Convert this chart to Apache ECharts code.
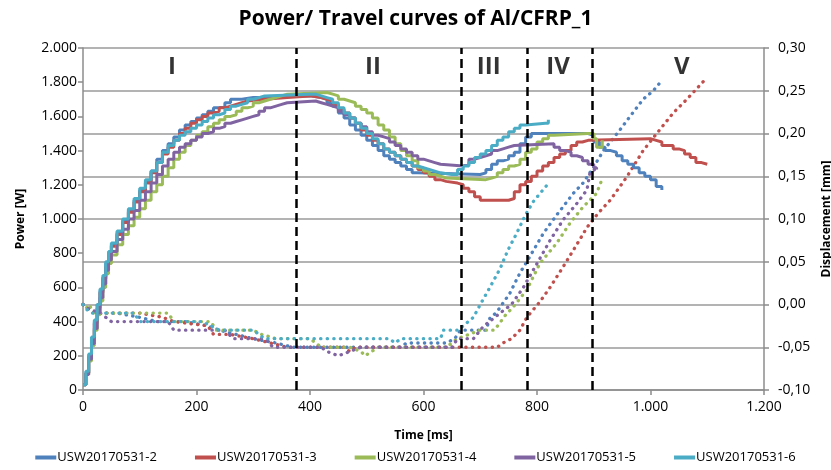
<!DOCTYPE html>
<html>
<head>
<meta charset="utf-8">
<script src="https://cdn.jsdelivr.net/npm/echarts@6/dist/echarts.min.js"></script>
<style>
html,body{margin:0;padding:0;background:#fff;}
#chart{width:831px;height:470px;}
</style>
</head>
<body>
<div id="chart"></div>
<script>
// ---------- DATA ----------
const seriesNames = ['USW20170531-2','USW20170531-3','USW20170531-4','USW20170531-5','USW20170531-6'];
const seriesColors = ['#4F81BD','#C0504D','#9BBB59','#8064A2','#4BACC6'];

// Power [W] vs time [ms]
const powerUSW2 = [[0,30],[5,100],[10,200],[15,300],[20,400],[25,500],[30,580],[35,660],[40,740],[45,800],[50,850],[60,920],[70,990],[80,1050],[90,1110],[100,1170],[110,1220],[120,1280],[130,1350],[140,1400],[150,1440],[160,1480],[170,1520],[180,1550],[190,1570],[200,1590],[210,1610],[220,1630],[230,1650],[240,1660],[250,1680],[260,1700],[280,1710],[300,1710],[320,1720],[380,1720],[400,1710],[420,1700],[430,1680],[440,1660],[450,1620],[460,1590],[470,1550],[480,1520],[490,1490],[500,1460],[510,1430],[520,1400],[530,1370],[540,1350],[550,1330],[560,1310],[570,1290],[580,1270],[590,1260],[700,1270],[710,1290],[720,1320],[730,1340],[740,1350],[750,1370],[760,1390],[770,1440],[780,1480],[790,1500],[890,1490],[900,1450],[910,1420],[920,1400],[930,1390],[940,1370],[950,1340],[960,1320],[970,1300],[980,1270],[990,1250],[1000,1230],[1010,1190],[1020,1170]];
const powerUSW3 = [[0,30],[5,100],[10,190],[15,290],[20,390],[25,480],[30,570],[35,650],[40,720],[45,790],[50,840],[60,910],[70,980],[80,1040],[90,1100],[100,1160],[110,1210],[120,1270],[130,1330],[140,1380],[150,1420],[160,1460],[170,1500],[180,1530],[190,1560],[200,1580],[210,1600],[220,1620],[230,1630],[240,1650],[250,1660],[260,1670],[270,1680],[280,1690],[290,1700],[320,1710],[360,1720],[400,1710],[420,1700],[430,1690],[440,1670],[450,1640],[460,1620],[470,1590],[480,1560],[490,1520],[500,1490],[510,1460],[520,1440],[530,1410],[540,1390],[550,1370],[560,1350],[570,1330],[580,1310],[590,1290],[600,1270],[610,1250],[620,1230],[630,1220],[640,1210],[660,1200],[670,1180],[680,1160],[690,1130],[700,1110],[750,1120],[760,1160],[770,1200],[780,1220],[790,1250],[800,1280],[810,1310],[820,1330],[830,1360],[840,1380],[850,1400],[860,1430],[870,1450],[880,1460],[890,1470],[1000,1460],[1010,1450],[1020,1430],[1040,1410],[1050,1400],[1060,1380],[1070,1360],[1080,1330],[1090,1320],[1100,1320]];
const powerUSW4 = [[0,30],[5,90],[10,170],[15,260],[20,350],[25,440],[30,520],[35,600],[40,680],[45,740],[50,790],[60,850],[70,910],[80,960],[90,1010],[100,1060],[110,1110],[120,1160],[130,1200],[140,1250],[150,1300],[160,1350],[170,1390],[180,1430],[190,1460],[200,1490],[210,1510],[220,1540],[230,1560],[240,1580],[250,1600],[260,1610],[270,1630],[280,1650],[290,1660],[300,1680],[310,1690],[320,1700],[330,1710],[340,1720],[350,1730],[360,1740],[430,1730],[440,1720],[450,1700],[460,1690],[470,1680],[480,1660],[490,1640],[500,1620],[510,1590],[520,1550],[530,1520],[540,1480],[550,1440],[560,1400],[570,1370],[580,1340],[590,1300],[600,1280],[610,1260],[620,1250],[630,1240],[640,1230],[710,1240],[720,1250],[730,1270],[740,1290],[750,1310],[760,1320],[770,1350],[780,1390],[790,1410],[800,1450],[810,1470],[820,1490],[830,1500],[890,1500],[900,1470],[905,1420],[910,1420],[915,1460]];
const powerUSW5 = [[0,30],[5,90],[10,180],[15,270],[20,360],[25,450],[30,540],[35,620],[40,700],[45,760],[50,810],[60,880],[70,940],[80,1000],[90,1050],[100,1110],[110,1160],[120,1210],[130,1260],[140,1310],[150,1350],[160,1390],[170,1420],[180,1440],[190,1460],[200,1480],[210,1500],[220,1510],[230,1530],[240,1540],[250,1560],[260,1570],[270,1580],[280,1590],[290,1600],[300,1610],[310,1630],[320,1650],[330,1660],[340,1670],[350,1680],[360,1690],[410,1680],[420,1670],[430,1660],[440,1650],[450,1630],[460,1610],[470,1590],[480,1560],[490,1540],[500,1510],[510,1490],[520,1480],[530,1470],[540,1450],[550,1430],[560,1410],[570,1390],[580,1370],[590,1350],[600,1340],[610,1330],[620,1320],[630,1310],[670,1320],[680,1350],[690,1360],[700,1370],[710,1380],[720,1400],[730,1410],[740,1420],[750,1430],[760,1440],[830,1420],[840,1400],[850,1390],[860,1370],[870,1360],[880,1340],[890,1320],[900,1300],[905,1290]];
const powerUSW6 = [[0,30],[5,110],[10,210],[15,310],[20,410],[25,500],[30,590],[35,670],[40,750],[45,810],[50,860],[60,930],[70,1000],[80,1060],[90,1120],[100,1180],[110,1230],[120,1280],[130,1330],[140,1390],[150,1430],[160,1460],[170,1490],[180,1510],[190,1530],[200,1550],[210,1570],[220,1590],[230,1610],[240,1620],[250,1640],[260,1660],[270,1670],[280,1680],[290,1700],[300,1710],[310,1720],[320,1730],[400,1730],[410,1720],[420,1710],[430,1700],[440,1680],[450,1650],[460,1620],[470,1590],[480,1560],[490,1530],[500,1500],[510,1470],[520,1440],[530,1410],[540,1390],[550,1370],[560,1350],[570,1330],[580,1310],[590,1300],[600,1290],[610,1280],[620,1270],[630,1260],[650,1260],[660,1290],[670,1310],[680,1330],[690,1360],[700,1380],[710,1400],[720,1430],[730,1460],[740,1480],[750,1510],[760,1530],[770,1550],[780,1560],[815,1560],[820,1580]];

// Displacement [mm] vs time [ms]
const dispUSW2 = [[0,0.00],[10,-0.005],[20,-0.01],[60,-0.01],[100,-0.015],[130,-0.02],[180,-0.02],[220,-0.025],[240,-0.03],[270,-0.035],[300,-0.04],[340,-0.045],[370,-0.05],[560,-0.05],[570,-0.045],[640,-0.045],[655,-0.04],[665,-0.03],[710,-0.03],[717,-0.016],[729,-0.009],[752,0.013],[770,0.037],[782,0.05],[811,0.083],[835,0.105],[864,0.13],[881,0.142],[899,0.16],[917,0.18],[946,0.204],[964,0.22],[987,0.24],[1005,0.25],[1020,0.262]];
const dispUSW3 = [[0,0.00],[10,-0.005],[20,-0.01],[100,-0.01],[140,-0.015],[160,-0.02],[220,-0.025],[230,-0.035],[260,-0.035],[300,-0.04],[330,-0.045],[360,-0.05],[460,-0.05],[470,-0.055],[480,-0.05],[730,-0.05],[740,-0.045],[755,-0.04],[770,-0.03],[782,-0.015],[805,0.003],[823,0.02],[846,0.044],[870,0.07],[888,0.09],[908,0.107],[929,0.122],[958,0.149],[987,0.18],[1011,0.20],[1040,0.224],[1064,0.24],[1099,0.265]];
const dispUSW4 = [[0,0.00],[5,-0.005],[10,0.00],[20,-0.01],[150,-0.01],[160,-0.02],[225,-0.02],[235,-0.03],[300,-0.03],[315,-0.035],[340,-0.04],[400,-0.04],[420,-0.05],[470,-0.05],[490,-0.055],[497,-0.06],[520,-0.05],[640,-0.05],[650,-0.045],[660,-0.04],[700,-0.03],[725,-0.03],[745,-0.012],[758,-0.003],[782,0.017],[805,0.048],[835,0.072],[858,0.095],[881,0.114],[905,0.13],[916,0.149]];
const dispUSW5 = [[0,0.00],[10,-0.005],[30,-0.01],[50,-0.02],[150,-0.02],[160,-0.03],[250,-0.03],[265,-0.04],[320,-0.04],[335,-0.05],[420,-0.05],[430,-0.055],[450,-0.06],[470,-0.055],[490,-0.05],[650,-0.05],[660,-0.04],[688,-0.04],[705,-0.026],[735,-0.01],[755,0.00],[776,0.02],[800,0.048],[823,0.075],[846,0.099],[870,0.118],[888,0.134],[893,0.153],[905,0.16]];
const dispUSW6 = [[0,0.00],[5,-0.005],[15,-0.01],[90,-0.01],[100,-0.02],[210,-0.02],[225,-0.025],[240,-0.03],[300,-0.03],[320,-0.04],[540,-0.04],[550,-0.045],[560,-0.04],[630,-0.04],[635,-0.03],[660,-0.03],[670,-0.025],[688,-0.015],[700,0.00],[717,0.02],[735,0.042],[749,0.064],[764,0.083],[779,0.104],[793,0.12],[818,0.14]];

// Process phases
const phaseBounds = [375, 667, 782, 897];
const phaseNames = ['I','II','III','IV','V'];
const phaseLabelTime = [157, 511, 715, 837, 1055];
const phaseLabelPower = [1890, 1890, 1890, 1890, 1890];

// Axis ticks
const xTicks = [0, 200, 400, 600, 800, 1000, 1200];
const powerTicks = [0, 200, 400, 600, 800, 1000, 1200, 1400, 1600, 1800, 2000];
const dispTicks = [-0.10, -0.05, 0.00, 0.05, 0.10, 0.15, 0.20, 0.25, 0.30];

// ---------- CHART ----------
const powerData = [powerUSW2, powerUSW3, powerUSW4, powerUSW5, powerUSW6];
const dispData = [dispUSW2, dispUSW3, dispUSW4, dispUSW5, dispUSW6];

const FONT = '"Open Sans", "Liberation Sans", sans-serif';
const GRID_COL = '#9a9a9a';
const AXIS_COL = '#8c8c8c';

function dotThousands(v) {
  v = Math.round(v);
  if (Math.abs(v) >= 1000) {
    return Math.floor(v / 1000) + '.' + String(v % 1000).padStart(3, '0');
  }
  return String(v);
}

const series = [];
powerData.forEach((d, i) => {
  series.push({
    name: seriesNames[i],
    type: 'line',
    xAxisIndex: 0,
    yAxisIndex: 0,
    data: d,
    step: 'end',
    showSymbol: false,
    symbol: 'none',
    lineStyle: { color: seriesColors[i], width: 3 },
    itemStyle: { color: seriesColors[i] },
    z: 3,
    animation: false
  });
});
dispData.forEach((d, i) => {
  series.push({
    name: seriesNames[i],
    type: 'line',
    xAxisIndex: 0,
    yAxisIndex: 1,
    data: d,
    showSymbol: false,
    symbol: 'none',
    lineStyle: { color: seriesColors[i], width: 3.3, type: [0.3, 6.3], cap: 'round' },
    itemStyle: { color: seriesColors[i] },
    z: 2,
    animation: false
  });
});
// Phase boundaries (dashed) and phase labels
series.push({
  type: 'scatter',
  xAxisIndex: 0,
  yAxisIndex: 0,
  symbolSize: 0,
  data: phaseNames.map((n, i) => ({ value: [phaseLabelTime[i], phaseLabelPower[i]], name: n })),
  label: {
    show: true,
    position: 'inside',
    formatter: p => p.name,
    fontFamily: FONT,
    fontWeight: 'bold',
    fontSize: 24,
    color: '#000'
  },
  markLine: {
    silent: true,
    symbol: ['none', 'none'],
    label: { show: false },
    lineStyle: { color: '#000', width: 2.5, type: [9, 5] },
    data: phaseBounds.map(b => ({ xAxis: b }))
  },
  z: 4,
  animation: false
});

const chart = echarts.init(document.getElementById('chart'), null, { renderer: 'canvas' });
chart.setOption({
  backgroundColor: '#fff',
  animation: false,
  title: {
    text: 'Power/ Travel curves of Al/CFRP_1',
    left: 'center',
    top: 4,
    textStyle: { fontFamily: FONT, fontWeight: 'bold', fontSize: 21, color: '#000' }
  },
  legend: {
    data: seriesNames,
    bottom: 1,
    left: 'center',
    icon: 'rect',
    itemWidth: 21,
    itemHeight: 4,
    itemGap: 38,
    textStyle: { fontFamily: FONT, fontSize: 13, color: '#000', padding: [0, 0, 0, -4] }
  },
  grid: { left: 83, right: 67, top: 48, bottom: 80, containLabel: false, outerBoundsMode: 'none' },
  xAxis: {
    type: 'value',
    min: xTicks[0],
    max: xTicks[xTicks.length - 1],
    interval: xTicks[1] - xTicks[0],
    name: 'Time [ms]',
    nameLocation: 'middle',
    nameGap: 40,
    nameTextStyle: { fontFamily: FONT, fontWeight: 'bold', fontSize: 12, color: '#000' },
    axisLine: { lineStyle: { color: AXIS_COL, width: 1.5 } },
    axisTick: { show: true, inside: false, length: 5, lineStyle: { color: AXIS_COL, width: 1.5 } },
    axisLabel: { fontFamily: FONT, fontSize: 14, color: '#000', margin: 10, formatter: dotThousands },
    splitLine: { show: false }
  },
  yAxis: [
    {
      type: 'value',
      position: 'left',
      min: powerTicks[0],
      max: powerTicks[powerTicks.length - 1],
      interval: powerTicks[1] - powerTicks[0],
      name: 'Power [W]',
      nameLocation: 'middle',
      nameGap: 56,
      nameRotate: 90,
      nameTextStyle: { fontFamily: FONT, fontWeight: 'bold', fontSize: 12, color: '#000' },
      axisLine: { show: true, lineStyle: { color: AXIS_COL, width: 1.5 } },
      axisTick: { show: true, inside: false, length: 5, lineStyle: { color: AXIS_COL, width: 1.5 } },
      axisLabel: { fontFamily: FONT, fontSize: 14, color: '#000', margin: 6, formatter: dotThousands },
      splitLine: { show: false }
    },
    {
      type: 'value',
      position: 'right',
      min: dispTicks[0],
      max: dispTicks[dispTicks.length - 1],
      interval: 0.05,
      name: 'Displacement [mm]',
      nameLocation: 'middle',
      nameGap: 56,
      nameRotate: 90,
      nameTextStyle: { fontFamily: FONT, fontWeight: 'bold', fontSize: 12, color: '#000' },
      axisLine: { show: true, lineStyle: { color: AXIS_COL, width: 1.5 } },
      axisTick: { show: true, inside: false, length: 5, lineStyle: { color: AXIS_COL, width: 1.5 } },
      axisLabel: { fontFamily: FONT, fontSize: 14, color: '#000', margin: 14,
        formatter: v => (Math.abs(v) < 1e-9 ? 0 : v).toFixed(2).replace('.', ',') },
      splitLine: { show: true, lineStyle: { color: GRID_COL, width: 1.5 } }
    }
  ],
  series: series
});
</script>
</body>
</html>
